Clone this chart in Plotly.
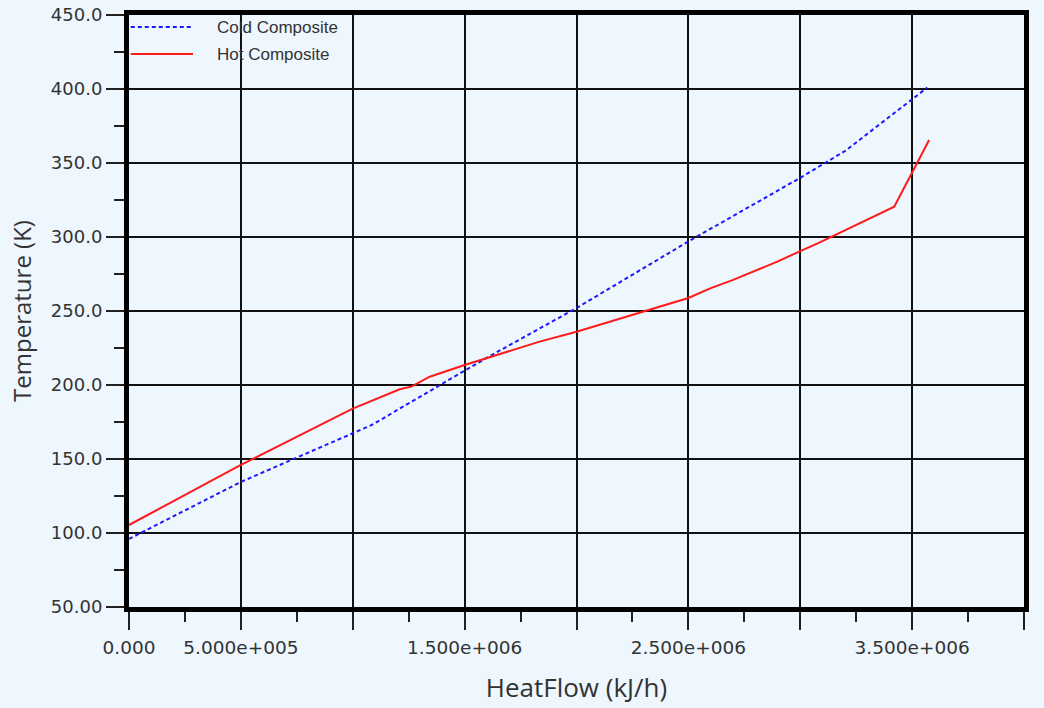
import plotly.graph_objects as go

# ---- data ----
cold_heat = [0, 5.0e5, 1.085e6, 1.6e6, 2.0e6, 2.5e6, 3.0e6, 3.204e6, 3.568e6]
cold_temp = [96.0, 134.5, 173.0, 218.5, 252.0, 297.0, 340.0, 358.5, 401.0]

hot_heat = [0, 5.0e5, 0.942e6, 1.0e6, 1.21e6, 1.262e6, 1.344e6, 1.5e6, 1.835e6, 2.0e6,
            2.5e6, 2.6e6, 2.7e6, 2.8e6, 2.9e6, 3.0e6, 3.085e6, 3.42e6, 3.576e6]
hot_temp = [105.4, 146.0, 179.7, 184.0, 197.1, 198.9, 205.6, 213.5, 229.3, 236.0,
            258.8, 265.5, 271.0, 277.0, 283.5, 290.5, 296.2, 320.5, 365.5]

x_tickvals = [0, 5e5, 1e6, 1.5e6, 2e6, 2.5e6, 3e6, 3.5e6, 4e6]
x_ticktext = ["0.000", "5.000e+005", "", "1.500e+006", "", "2.500e+006", "", "3.500e+006", ""]
y_tickvals = [50, 100, 150, 200, 250, 300, 350, 400, 450]
y_ticktext = ["50.00", "100.0", "150.0", "200.0", "250.0", "300.0", "350.0", "400.0", "450.0"]

series_names = ["Cold Composite", "Hot Composite"]
series_colors = ["#1a1aff", "#ff1a1a"]

BG = "#eef6fe"
TXT = "#333333"

fig = go.Figure()
fig.add_trace(go.Scatter(x=cold_heat, y=cold_temp, mode="lines", name=series_names[0],
                         line=dict(color=series_colors[0], width=2, dash="4px,3px"),
                         showlegend=False))
fig.add_trace(go.Scatter(x=hot_heat, y=hot_temp, mode="lines", name=series_names[1],
                         line=dict(color=series_colors[1], width=2),
                         showlegend=False))

# manual legend (top-left, inside plot, no box)
leg_y = [0.9797, 0.9341]
for i in range(2):
    fig.add_shape(type="line", xref="paper", yref="paper", x0=0.002, x1=0.0715,
                  y0=leg_y[i], y1=leg_y[i],
                  line=dict(color=series_colors[i], width=2,
                            dash="4px,3px" if i == 0 else "solid"))
    fig.add_annotation(xref="paper", yref="paper", x=0.096, y=leg_y[i],
                       text=series_names[i], showarrow=False, xanchor="left",
                       yanchor="middle",
                       font=dict(family="Liberation Sans, Arial", size=17, color=TXT))

# figure placed at (3,3) in the page
fig.update_layout(
    width=1041, height=704,
    margin=dict(l=126, r=20, t=12, b=100, autoexpand=False),
    paper_bgcolor=BG, plot_bgcolor=BG,
    font=dict(family="DejaVu Sans", color=TXT),
)
fig.update_xaxes(
    range=[0, 4e6], tickvals=x_tickvals, ticktext=x_ticktext, automargin=False,
    showgrid=True, gridcolor="#111111", gridwidth=2,
    showline=True, linecolor="#000000", linewidth=5, mirror=True,
    ticks="outside", ticklen=18, tickwidth=1.5, tickcolor="#222222",
    minor=dict(dtick=2.5e5, tick0=0, ticks="outside", ticklen=10, tickwidth=1.5,
               tickcolor="#222222", showgrid=False),
    ticklabelstandoff=2,
    tickfont=dict(family="DejaVu Sans", size=18.5, color=TXT),
    title=dict(text="HeatFlow (kJ/h)", standoff=23,
               font=dict(family="Open Sans, DejaVu Sans", size=26, color=TXT)),
    zeroline=False,
)
fig.update_yaxes(
    range=[50, 450], tickvals=y_tickvals, ticktext=y_ticktext, automargin=False,
    showgrid=True, gridcolor="#111111", gridwidth=2,
    showline=True, linecolor="#000000", linewidth=5, mirror=True,
    ticks="outside", ticklen=18, tickwidth=1.5, tickcolor="#222222",
    minor=dict(dtick=25, tick0=0, ticks="outside", ticklen=10, tickwidth=1.5,
               tickcolor="#222222", showgrid=False),
    tickfont=dict(family="DejaVu Sans", size=18, color=TXT),
    title=dict(text="Temperature (K)", standoff=14,
               font=dict(family="Open Sans, DejaVu Sans", size=24, color=TXT)),
    zeroline=False,
)

page_css = ("document.documentElement.style.background='" + BG + "';"
            "document.body.style.margin='3px 0 0 3px';"
            "document.body.style.background='" + BG + "';")
fig.write_html("out.html", post_script=page_css)
